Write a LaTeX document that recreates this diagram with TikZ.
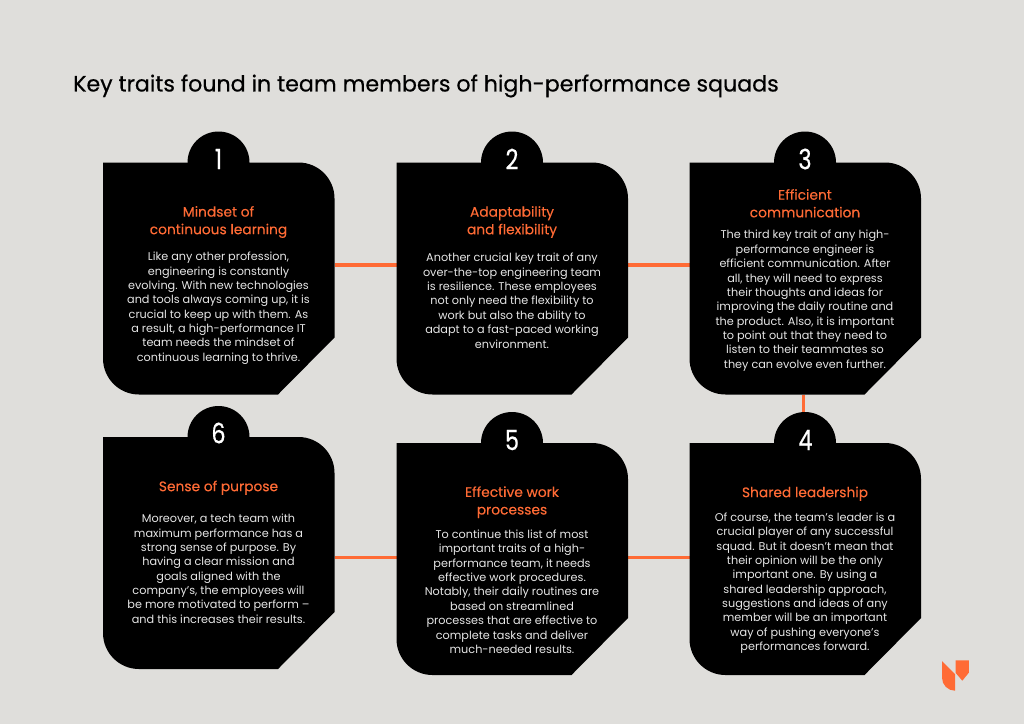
\documentclass[tikz,border=0pt]{standalone}
\usepackage{fontspec}
\setmainfont{Poppins}
\newfontfamily\heavyfont[FakeBold=0.5]{Poppins}
\newfontfamily\semifont[FakeBold=0.25]{Poppins}
\definecolor{bgc}{HTML}{DFDEDB}
\definecolor{accent}{HTML}{FF6B35}
\definecolor{bodyc}{HTML}{E6E6E6}
\tikzset{
  x=1pt,y=-1pt,
  cardbox/.style={minimum width=231.5pt,minimum height=232pt,inner sep=0pt,outer sep=0pt,anchor=north west},
  link/.style={draw=accent,line width=3.4pt},
  numlabel/.style={text=white,font=\heavyfont\fontsize{28}{28}\selectfont,anchor=center,inner sep=0pt},
  headlabel/.style={text=accent,font=\semifont\fontsize{13.8}{17.6}\selectfont,align=center,anchor=center,inner sep=0pt},
  bodylabel/.style={text=bodyc,font=\fontsize{11.25}{14.37}\selectfont,align=center,anchor=center,inner sep=0pt},
}
\newcommand{\nm}[1]{\scalebox{0.8}[1]{#1}}
\newcommand{\cardshape}[1]{%
  \fill[black] (#1.north west) -- ([xshift=-36pt]#1.north east)
    arc[start angle=90,end angle=0,radius=36pt]
    -- ([yshift=57pt]#1.south east) -- ([xshift=-56.5pt]#1.south east)
    -- ([xshift=36pt]#1.south west)
    arc[start angle=270,end angle=180,radius=36pt] -- cycle;
  \fill[black] ([xshift=115.5pt]#1.north west) circle[radius=31pt];
}
\begin{document}
\begin{tikzpicture}
\useasboundingbox[fill=bgc] (0,0) rectangle (1024,724);
\node[text=black,font=\heavyfont\fontsize{22.15}{22}\selectfont,anchor=west,inner sep=0pt] (title) at (73,86) {Key traits found in team members of high-performance squads};
\node[cardbox] (c1) at (103,162.5) {};
\node[cardbox] (c2) at (396.5,162.5) {};
\node[cardbox] (c3) at (689.5,162.5) {};
\node[cardbox] (c6) at (103,437) {};
\node[cardbox] (c5) at (396.5,443) {};
\node[cardbox] (c4) at (689.5,443) {};
\draw[link] ([yshift=13.5pt]c1.east) -- ([yshift=13.5pt]c2.west);
\draw[link] ([yshift=13.5pt]c2.east) -- ([yshift=13.5pt]c3.west);
\draw[link] ([xshift=-2pt]c3.south) -- ([xshift=-2pt]c3.south |- c4.north);
\draw[link] ([yshift=-4.5pt]c6.east) -- ([yshift=1.5pt]c5.west);
\draw[link] ([yshift=1.5pt]c5.east) -- ([yshift=1.5pt]c4.west);
\cardshape{c1}\cardshape{c2}\cardshape{c3}\cardshape{c6}\cardshape{c5}\cardshape{c4}
\node[numlabel] (n1) at (218.5,159) {\nm{1}};
\node[numlabel] (n2) at (512,159) {\nm{2}};
\node[numlabel] (n3) at (805,159) {\nm{3}};
\node[numlabel] (n6) at (218.5,433) {\nm{6}};
\node[numlabel] (n5) at (512,440) {\nm{5}};
\node[numlabel] (n4) at (805.5,440) {\nm{4}};
\node[headlabel] (h1) at (218.5,222) {Mindset of\\continuous learning};
\node[headlabel] (h2) at (512,222) {Adaptability\\and flexibility};
\node[headlabel] (h3) at (805,203.3) {Efficient\\communication};
\node[headlabel] (h6) at (218.5,487.7) {Sense of purpose};
\node[headlabel] (h5) at (512,502.2) {Effective work\\processes};
\node[headlabel] (h4) at (805,493.7) {Shared leadership};
\node[bodylabel] (b1) at (218.5,308.2) {Like any other profession,\\engineering is constantly\\evolving. With new technologies\\and tools always coming up, it is\\crucial to keep up with them. As\\a result, a high-performance IT\\team needs the mindset of\\continuous learning to thrive.};
\node[bodylabel] (b2) at (512,300.7) {Another crucial key trait of any\\over-the-top engineering team\\is resilience. These employees\\not only need the flexibility to\\work but also the ability to\\adapt to a fast-paced working\\environment.};
\node[bodylabel] (b3) at (805,300.7) {The third key trait of any high-\\performance engineer is\\efficient communication. After\\all, they will need to express\\their thoughts and ideas for\\improving the daily routine and\\the product. Also, it is important\\to point out that they need to\\listen to their teammates so\\they can evolve even further.};
\node[bodylabel] (b6) at (218.5,568.7) {Moreover, a tech team with\\maximum performance has a\\strong sense of purpose. By\\having a clear mission and\\goals aligned with the\\company’s, the employees will\\be more motivated to perform –\\and this increases their results.};
\node[bodylabel] (b5) at (512,591.7) {To continue this list of most\\important traits of a high-\\performance team, it needs\\effective work procedures.\\Notably, their daily routines are\\based on streamlined\\processes that are effective to\\complete tasks and deliver\\much-needed results.};
\node[bodylabel] (b4) at (805,583.2) {Of course, the team’s leader is a\\crucial player of any successful\\squad. But it doesn’t mean that\\their opinion will be the only\\important one. By using a\\shared leadership approach,\\suggestions and ideas of any\\member will be an important\\way of pushing everyone’s\\performances forward.};
\fill[accent] (942,661) -- (955,674) -- (955,690.7) arc[start angle=270,end angle=180,radius=13pt] -- cycle;
\fill[accent] (955.5,660.3) -- (968.8,660.3) -- (968.8,672.7) -- (962.3,680.7) -- (955.5,672.7) -- cycle;
\end{tikzpicture}
\end{document}
